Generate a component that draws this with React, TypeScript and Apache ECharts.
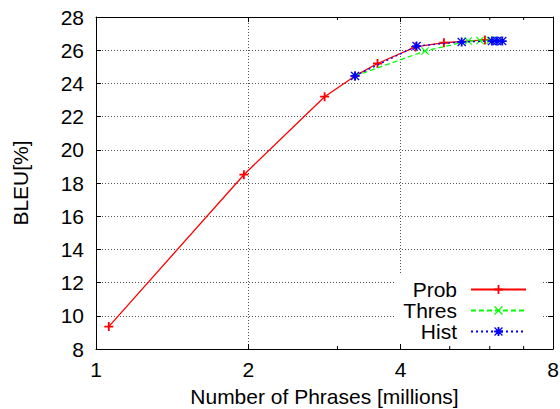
import React, { useEffect, useRef } from "react";
import * as echarts from "echarts";

// Phrase-table size (millions of phrases) against BLEU score for three pruning methods.
const probPhrases = [1.06, 1.96, 2.83, 3.25, 3.6, 4.28, 4.87, 5.87];
const probBleu = [9.35, 18.5, 23.2, 24.45, 25.2, 26.2, 26.45, 26.62];

const thresPhrases = [3.25, 4.47, 5.44, 5.74, 6.01, 6.23];
const thresBleu = [24.45, 25.95, 26.55, 26.58, 26.6, 26.6];

const histPhrases = [3.25, 4.3, 5.28, 6.06, 6.2, 6.35];
const histBleu = [24.45, 26.25, 26.5, 26.55, 26.55, 26.55];

const seriesNames = ["Prob", "Thres", "Hist"];

const xMin = 1;
const xMax = 8;
const yMin = 8;
const yMax = 28;
const yStep = 2;
const minorXTicks = [3, 5, 6, 7];

const FONT = "'Liberation Sans', Arial, Helvetica, sans-serif";

// gnuplot-style point glyphs
const PLUS = "path://M4,0H6V4H10V6H6V10H4V6H0V4H4Z";
const CROSS = "path://M0,1L1,0L5,4L9,0L10,1L6,5L10,9L9,10L5,6L1,10L0,9L4,5Z";
const STAR =
  "path://M4,0H6V4H10V6H6V10H4V6H0V4H4Z M0,1L1,0L5,4L9,0L10,1L6,5L10,9L9,10L5,6L1,10L0,9L4,5Z";

const zip = (xs: number[], ys: number[]) => xs.map((x, i) => [x, ys[i]]);

export default function App() {
  const ref = useRef<HTMLDivElement>(null);

  useEffect(() => {
    if (!ref.current) return;
    const chart = echarts.init(ref.current, null, { renderer: "svg" });

    const tickLabel = { color: "#000", fontSize: 21, fontFamily: FONT };
    const dotted = { show: true, lineStyle: { color: "#555", width: 1, type: [1, 2] as number[] } };

    chart.setOption({
      animation: false,
      backgroundColor: "#fff",
      grid: { left: 96, right: 7, top: 17, bottom: 60, outerBoundsMode: "none", containLabel: false },
      legend: {
        data: seriesNames,
        orient: "vertical",
        align: "right",
        right: 19,
        bottom: 61,
        itemWidth: 55,
        itemHeight: 11,
        itemGap: 0,
        padding: [4, 14, 6, 8],
        backgroundColor: "#fff",
        textStyle: { color: "#000", fontSize: 21, fontFamily: FONT, padding: [0, 9, 0, 0] },
        selectedMode: false,
      },
      xAxis: [
        {
          type: "log",
          logBase: 2,
          min: xMin,
          max: xMax,
          splitNumber: 3,
          position: "bottom",
          z: 5,
          name: "Number of Phrases [millions]",
          nameLocation: "middle",
          nameGap: 37,
          nameTextStyle: tickLabel,
          axisLine: { show: true, lineStyle: { color: "#000", width: 1 } },
          axisTick: { show: true, inside: true, length: 5, lineStyle: { color: "#000" } },
          axisLabel: { ...tickLabel, margin: 10 },
          splitLine: { show: false },
        },
        {
          type: "log",
          logBase: 2,
          min: xMin,
          max: xMax,
          splitNumber: 3,
          position: "top",
          axisLine: { show: true, lineStyle: { color: "#000", width: 1 } },
          axisTick: { show: true, inside: true, length: 5, lineStyle: { color: "#000" } },
          axisLabel: { show: false },
          splitLine: dotted,
        },
      ],
      yAxis: [
        {
          type: "value",
          min: yMin,
          max: yMax,
          interval: yStep,
          position: "left",
          name: "BLEU[%]",
          nameLocation: "middle",
          nameGap: 65,
          nameTextStyle: tickLabel,
          axisLine: { show: true, lineStyle: { color: "#000", width: 1 } },
          axisTick: { show: true, inside: true, length: 5, lineStyle: { color: "#000" } },
          axisLabel: { ...tickLabel, margin: 12 },
          splitLine: dotted,
        },
        {
          type: "value",
          min: yMin,
          max: yMax,
          interval: yStep,
          position: "right",
          axisLine: { show: true, lineStyle: { color: "#000", width: 1 } },
          axisTick: { show: true, inside: true, length: 5, lineStyle: { color: "#000" } },
          axisLabel: { show: false },
          splitLine: { show: false },
        },
      ],
      series: [
        {
          name: "Prob",
          type: "line",
          data: zip(probPhrases, probBleu),
          symbol: PLUS,
          symbolSize: 9,
          color: "#ff0000",
          itemStyle: { color: "#ff0000" },
          lineStyle: { color: "#ff0000", width: 1.3, type: "solid" },
          z: 2,
        },
        {
          name: "Thres",
          type: "line",
          data: zip(thresPhrases, thresBleu),
          symbol: CROSS,
          symbolSize: 8,
          color: "#00ff00",
          itemStyle: { color: "#00ff00" },
          lineStyle: { color: "#00ff00", width: 1.3, type: [5, 3] },
          z: 3,
        },
        {
          name: "Hist",
          type: "line",
          data: zip(histPhrases, histBleu),
          symbol: STAR,
          symbolSize: 9,
          color: "#0000ff",
          itemStyle: { color: "#0000ff" },
          lineStyle: { color: "#0000ff", width: 1.3, type: [2, 3] },
          z: 4,
        },
        {
          // minor ticks of the log axis, on the bottom and top borders
          name: "minorTicks",
          type: "custom",
          silent: true,
          z: 6,
          clip: false,
          data: minorXTicks.map((v) => [v, yMin]),
          renderItem: (_params: any, api: any) => {
            const v = api.value(0);
            const b = api.coord([v, yMin]);
            const t = api.coord([v, yMax]);
            const style = { stroke: "#000", lineWidth: 1 };
            return {
              type: "group",
              children: [
                { type: "line", shape: { x1: b[0], y1: b[1], x2: b[0], y2: b[1] - 3 }, style },
                { type: "line", shape: { x1: t[0], y1: t[1], x2: t[0], y2: t[1] + 3 }, style },
              ],
            };
          },
        },
      ],
    });

    return () => chart.dispose();
  }, []);

  return (
    <div
      ref={ref}
      style={{ position: "fixed", left: 0, top: 0, width: 560, height: 409 }}
    />
  );
}
